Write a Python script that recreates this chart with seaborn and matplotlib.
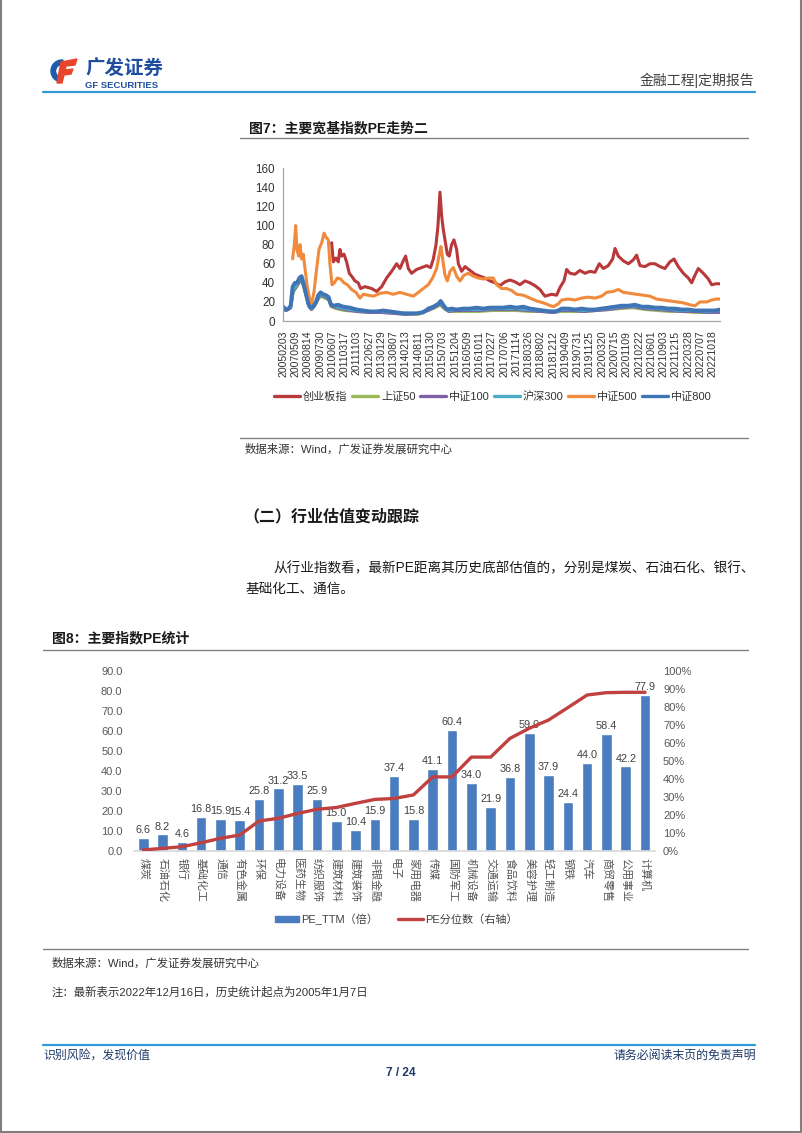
import numpy as np
import pandas as pd
import matplotlib
matplotlib.use("Agg")
import matplotlib.pyplot as plt
import seaborn as sns
from matplotlib.lines import Line2D
from matplotlib.patches import Rectangle, Wedge, Polygon

# ---- top chart: PE history of the broad indices (x = position on the date axis) ----
date_ticks = ["20050203", "20070509", "20080814", "20090730", "20100607", "20110317",
              "20111103", "20120627", "20130129", "20130807", "20140213", "20140811",
              "20150130", "20150703", "20151204", "20160509", "20161011", "20170227",
              "20170706", "20171114", "20180326", "20180802", "20181212", "20190409",
              "20190731", "20191125", "20200320", "20200715", "20201109", "20210222",
              "20210601", "20210903", "20211215", "20220328", "20220707", "20221018"]

index_names = ["创业板指", "上证50", "中证100", "沪深300", "中证500", "中证800"]
index_colors = ["#B9383A", "#9BBB59", "#7F5FA8", "#4BACC6", "#F08A3C", "#3F74B5"]

cyb_t = [3.94, 4.08, 4.29, 4.48, 4.62, 4.76, 4.95, 5.16, 5.38, 5.57, 5.84, 6.11, 6.30, 6.66,
         7.20, 7.61, 8.02, 8.42, 8.83, 9.24, 9.51, 9.78, 9.97, 10.19, 10.46, 10.87, 11.28,
         11.68, 12.01, 12.23, 12.45, 12.61, 12.77, 12.91, 13.04, 13.18, 13.37, 13.53, 13.72,
         13.91, 14.13, 14.27, 14.54, 14.81, 15.22, 15.62, 16.03, 16.44, 16.85, 17.26, 17.66,
         18.07, 18.48, 18.89, 19.29, 19.70, 20.11, 20.52, 20.92, 21.33, 21.88, 22.28, 22.55,
         22.88, 23.10, 23.37, 23.78, 24.18, 24.59, 25.00, 25.41, 25.76, 26.09, 26.49, 26.85,
         27.04, 27.31, 27.72, 28.13, 28.53, 28.80, 29.08, 29.48, 29.89, 30.30, 30.71, 31.11,
         31.52, 31.85, 32.20, 32.61, 33.02, 33.29, 33.56, 33.83, 34.24, 34.65, 34.92, 35.27,
         35.60]
cyb_v = [82, 62, 66, 62, 75, 68, 70, 62, 50, 47, 42, 40, 34, 36, 34, 31, 36, 45, 52, 60, 55,
         63, 68, 55, 50, 54, 56, 58, 56, 65, 80, 100, 135, 110, 96, 85, 70, 68, 80, 85, 75, 60,
         52, 57, 53, 49, 47, 45, 42, 40, 37, 41, 43, 41, 38, 42, 40, 37, 33, 26, 28, 27, 35,
         42, 54, 50, 49, 53, 50, 52, 51, 60, 55, 58, 65, 76, 68, 63, 60, 64, 69, 58, 57, 60,
         60, 57, 55, 62, 65, 57, 50, 45, 40, 48, 55, 50, 44, 38, 39, 39]

zz500_t = [0.76, 0.90, 1.01, 1.11, 1.25, 1.36, 1.49, 1.63, 1.77, 1.96, 2.17, 2.31, 2.50, 2.72,
           2.91, 3.13, 3.32, 3.48, 3.67, 3.80, 3.97, 4.16, 4.40, 4.67, 4.95, 5.22, 5.57, 5.92,
           6.25, 6.52, 6.93, 7.34, 7.88, 8.42, 8.97, 9.51, 10.05, 10.60, 11.01, 11.41, 11.82,
           12.17, 12.50, 12.72, 12.85, 12.99, 13.18, 13.37, 13.59, 13.86, 14.13, 14.40, 14.73,
           15.08, 15.49, 15.90, 16.30, 16.71, 17.12, 17.39, 17.80, 18.21, 18.61, 19.02, 19.57,
           20.11, 20.65, 21.20, 21.60, 22.01, 22.42, 22.69, 23.23, 23.78, 24.32, 24.86, 25.41,
           25.95, 26.36, 26.90, 27.31, 27.72, 28.26, 28.80, 29.35, 29.89, 30.43, 30.98, 31.52,
           32.07, 32.61, 33.15, 33.56, 33.97, 34.51, 34.92, 35.27, 35.60]
zz500_v = [65, 80, 100, 75, 68, 80, 65, 70, 55, 35, 22, 18, 30, 55, 75, 82, 92, 88, 85, 60, 38,
           40, 45, 44, 40, 38, 33, 30, 24, 28, 27, 26, 29, 30, 28, 30, 28, 26, 30, 34, 38, 45,
           55, 70, 78, 65, 48, 42, 52, 56, 47, 42, 48, 50, 47, 45, 44, 45, 45, 38, 34, 34, 32,
           28, 27, 24, 21, 19, 17, 15, 18, 22, 23, 22, 24, 25, 24, 26, 30, 31, 33, 30, 29, 28,
           27, 26, 23, 22, 21, 20, 19, 17, 16, 20, 20, 22, 23, 23]

zz800_t = [0.00, 0.19, 0.41, 0.60, 0.76, 0.95, 1.14, 1.30, 1.49, 1.68, 1.85, 2.04, 2.23, 2.45,
           2.66, 2.85, 3.04, 3.26, 3.48, 3.70, 3.86, 4.08, 4.48, 4.89, 5.43, 5.98, 6.52, 7.07,
           7.61, 8.15, 8.70, 9.24, 9.78, 10.33, 10.87, 11.41, 11.82, 12.23, 12.64, 12.83, 13.04,
           13.32, 13.72, 14.13, 14.67, 15.22, 15.76, 16.30, 16.85, 17.39, 17.93, 18.48, 19.02,
           19.57, 20.11, 20.65, 21.20, 21.74, 22.28, 22.69, 23.23, 23.78, 24.32, 24.86, 25.41,
           25.95, 26.49, 27.04, 27.58, 28.13, 28.67, 29.21, 29.76, 30.30, 30.84, 31.39, 31.93,
           32.47, 33.02, 33.56, 34.10, 34.65, 35.19, 35.60]
zz800_v = [15, 12, 13, 16, 36, 40, 40, 45, 47, 38, 28, 18, 14, 15, 20, 27, 30, 28, 27, 25, 18,
           16, 17, 15, 14, 12, 11, 10, 10, 11, 10, 9, 8, 8, 8, 9, 13, 15, 18, 21, 17, 12, 13, 12,
           13, 13, 14, 13, 14, 14, 14, 15, 14, 15, 13, 12, 11, 10, 10, 13, 13, 12, 13, 12, 12, 13,
           14, 15, 16, 16, 17, 15, 15, 14, 14, 13, 13, 12, 12, 11, 11, 11, 11, 12]

large_t = [0, 0.2, 0.4, 0.6, 0.8, 1.0, 1.3, 1.5, 1.7, 1.9, 2.1, 2.3, 2.6, 2.9, 3.1, 3.4, 3.7,
           3.9, 4.3, 5.0, 6.0, 7.0, 8.0, 9.0, 10.0, 11.0, 11.8, 12.4, 12.8, 13.1, 13.5, 14.0,
           15.0, 16.0, 17.0, 18.0, 19.0, 20.0, 21.0, 22.0, 22.6, 23.5, 24.5, 25.5, 26.5, 27.5,
           28.5, 29.5, 30.5, 31.5, 32.5, 33.5, 34.5, 35.6]
sz50_v = [13, 11, 12, 14, 30, 34, 40, 42, 34, 25, 15, 12, 17, 24, 26, 24, 22, 15, 13, 11, 10, 9,
          9, 8, 7, 7, 11, 14, 17, 13, 10, 10, 10, 10, 11, 11, 11, 10, 10, 9, 10, 10, 10, 11, 12,
          13, 14, 12, 11, 10, 10, 9, 9, 9]
zz100_v = [13, 11, 12, 14, 31, 35, 41, 43, 35, 25, 15, 12, 17, 25, 27, 25, 23, 16, 14, 12, 10,
           9, 9, 8, 7, 8, 11, 15, 18, 14, 10, 11, 11, 11, 12, 12, 12, 11, 10, 9, 11, 11, 10, 11,
           12, 14, 15, 13, 12, 11, 10, 10, 9, 9]
hs300_v = [14, 12, 13, 15, 32, 36, 42, 44, 36, 26, 16, 13, 18, 26, 28, 26, 24, 17, 15, 13, 11,
           10, 10, 9, 8, 8, 12, 16, 19, 15, 11, 12, 12, 12, 13, 13, 13, 12, 11, 10, 12, 12, 11,
           12, 13, 15, 16, 14, 13, 12, 11, 11, 10, 11]

# ---- bottom chart: industry PE and its historical percentile ----
industries = ["煤炭", "石油石化", "银行", "基础化工", "通信", "有色金属", "环保", "电力设备",
              "医药生物", "纺织服饰", "建筑材料", "建筑装饰", "非银金融", "电子", "家用电器",
              "传媒", "国防军工", "机械设备", "交通运输", "食品饮料", "美容护理", "轻工制造",
              "钢铁", "汽车", "商贸零售", "公用事业", "计算机"]
pe_ttm = [6.6, 8.2, 4.6, 16.8, 15.9, 15.4, 25.8, 31.2, 33.5, 25.9, 15.0, 10.4, 15.9, 37.4,
          15.8, 41.1, 60.4, 34.0, 21.9, 36.8, 59.0, 37.9, 24.4, 44.0, 58.4, 42.2, 77.9]
pe_pct = [0.004, 0.013, 0.022, 0.044, 0.069, 0.087, 0.165, 0.18, 0.207, 0.23, 0.24, 0.263,
          0.285, 0.29, 0.31, 0.41, 0.41, 0.52, 0.52, 0.624, 0.68, 0.726, 0.795, 0.865, 0.878,
          0.88, 0.88]

BAR_BLUE = "#4A7DBF"
LINE_RED = "#C0413F"
NAVY = "#1F3A68"

sns.set_theme(style="white")
plt.rcParams['font.family'] = ['Liberation Sans', 'Noto Sans CJK SC']
plt.rcParams['axes.unicode_minus'] = False

fig = plt.figure(figsize=(8.02, 11.33), dpi=100)

# page layer in pixel coordinates
page = fig.add_axes([0, 0, 1, 1], zorder=0)
page.set_xlim(0, 802)
page.set_ylim(1133, 0)
page.axis("off")

# logo
page.add_patch(Wedge((62, 71), 11, 95, 275, width=4.5, color="#1E5BAA"))
page.add_patch(Polygon([(61, 62), (77, 59), (75, 65), (66, 66), (65, 70), (73, 69),
                        (71, 74), (64, 75), (62, 83), (57, 83)], closed=True,
                       color="#E8452C"))
page.text(85, 69, "广发证券", fontsize=14, fontweight="bold", color="#1F4E9E",
          va="center", ha="left")
page.text(85, 85.5, "GF SECURITIES", fontsize=6.8, fontweight="bold", color="#1F4E9E",
          va="center", ha="left")
page.text(754, 80, "金融工程|定期报告", fontsize=10, color="#404040", va="center", ha="right")
page.plot([43, 755], [92.3, 92.3], color="#2E9BD6", lw=1.6)

# figure 7 captions
page.text(249, 128, "图7：主要宽基指数PE走势二", fontsize=10, fontweight="bold",
          va="center", ha="left", color="#1a1a1a")
page.plot([240, 748], [137.7, 137.7], color="#808080", lw=1)
page.plot([240, 748], [438, 438], color="#808080", lw=1)
page.text(245, 449, "数据来源：Wind，广发证券发展研究中心", fontsize=8.2, color="#333333",
          va="center", ha="left")

# section text
page.text(243, 517, "（二）行业估值变动跟踪", fontsize=11.5, fontweight="bold",
          va="center", ha="left", color="#1a1a1a")
page.text(273, 568, "从行业指数看，最新PE距离其历史底部估值的，分别是煤炭、石油石化、银行、",
          fontsize=9.8, va="center", ha="left", color="#1a1a1a")
page.text(246, 589, "基础化工、通信。", fontsize=9.8, va="center", ha="left", color="#1a1a1a")

# figure 8 captions
page.text(52, 638, "图8：主要指数PE统计", fontsize=10, fontweight="bold",
          va="center", ha="left", color="#1a1a1a")
page.plot([43, 748], [650, 650], color="#808080", lw=1)
page.plot([43, 748], [949, 949], color="#808080", lw=1)
page.text(52, 963, "数据来源：Wind，广发证券发展研究中心", fontsize=8.2, color="#333333",
          va="center", ha="left")
page.text(52, 992, "注：最新表示2022年12月16日，历史统计起点为2005年1月7日", fontsize=8.2,
          color="#333333", va="center", ha="left")

# footer
page.plot([43, 755], [1045, 1045], color="#2E9BD6", lw=1.6)
page.text(43, 1056, "识别风险，发现价值", fontsize=8.6, color=NAVY, va="center", ha="left")
page.text(756, 1056, "请务必阅读末页的免责声明", fontsize=8.6, color=NAVY, va="center", ha="right")
page.text(401, 1073, "7 / 24", fontsize=8.6, fontweight="bold", color=NAVY,
          va="center", ha="center")

# page frame
page.plot([1, 1], [0, 1132], color="#7F7F7F", lw=1.5)
page.plot([800.5, 800.5], [0, 1132], color="#7F7F7F", lw=1.5)
page.plot([1, 800.5], [1131.5, 1131.5], color="#7F7F7F", lw=1.5)

# ---- top chart ----
frames = []
for name, t, v in [("创业板指", cyb_t, cyb_v), ("上证50", large_t, sz50_v),
                   ("中证100", large_t, zz100_v), ("沪深300", large_t, hs300_v),
                   ("中证500", zz500_t, zz500_v), ("中证800", zz800_t, zz800_v)]:
    frames.append(pd.DataFrame({"t": t, "pe": v, "index": name}))
pe_df = pd.concat(frames, ignore_index=True)

ax1 = fig.add_axes([283.3 / 802, 1 - 321 / 1133, 436.7 / 802, 152.7 / 1133], zorder=2)
ax1.patch.set_alpha(0)
sns.lineplot(data=pe_df, x="t", y="pe", hue="index", hue_order=index_names,
             palette=index_colors, estimator=None, sort=False, linewidth=2.2,
             legend=False, ax=ax1)
for ln, name in zip(ax1.lines, index_names):
    ln.set_linewidth(2.8 if name == "中证800" else 2.2)
    ln.set_solid_joinstyle("round")

ax1.set_xlim(0, 35.6)
ax1.set_ylim(0, 160)
ax1.set_yticks(range(0, 161, 20))
ax1.set_xticks(range(len(date_ticks)))
ax1.set_xticklabels(date_ticks, rotation=90, ha="center", va="top", fontsize=7.6,
                    color="#333333")
ax1.tick_params(axis="y", labelsize=8.4, labelcolor="#333333", length=0, pad=6)
ax1.tick_params(axis="x", length=0, pad=7)
ax1.set_xlabel("")
ax1.set_ylabel("")
for s in ["top", "right"]:
    ax1.spines[s].set_visible(False)
for s in ["left", "bottom"]:
    ax1.spines[s].set_color("#A6A6A6")
    ax1.spines[s].set_linewidth(0.9)

handles1 = [Line2D([], [], color=c, lw=2.4) for c in index_colors]
fig.legend(handles1, index_names, loc="center", bbox_to_anchor=(493 / 802, 1 - 397 / 1133),
           ncol=6, frameon=False, fontsize=8, handlelength=2.3, handletextpad=0.3,
           columnspacing=0.4, labelcolor="#333333")

# ---- bottom chart ----
ax2 = fig.add_axes([133.6 / 802, 1 - 850.7 / 1133, 521.1 / 802, 180 / 1133], zorder=2)
ax2.patch.set_alpha(0)
sns.barplot(x=industries, y=pe_ttm, color=BAR_BLUE, saturation=1, width=0.55, ax=ax2)
ax2.bar_label(ax2.containers[0], fmt="%.1f", padding=2, fontsize=7.8, color="#404040")
ax2.set_ylim(0, 90)
ax2.set_xlim(-0.5, len(industries) - 0.5)
ax2.set_yticks(np.arange(0, 91, 10))
ax2.set_yticklabels([f"{v:.1f}" for v in np.arange(0, 91, 10)])
ax2.set_xticks(range(len(industries)))
ax2.set_xticklabels(industries, rotation=-90, ha="center", va="top", fontsize=7.9,
                    color="#555555")
ax2.tick_params(axis="y", labelsize=8, labelcolor="#595959", length=0, pad=8)
ax2.tick_params(axis="x", length=0, pad=5)
for s in ["top", "right", "left"]:
    ax2.spines[s].set_visible(False)
ax2.spines["bottom"].set_color("#D9D9D9")

ax2r = ax2.twinx()
sns.lineplot(x=np.arange(len(industries)), y=pe_pct, color=LINE_RED, linewidth=2.4, ax=ax2r)
ax2r.set_ylim(0, 1)
ax2r.set_yticks(np.arange(0, 1.01, 0.1))
ax2r.set_yticklabels([f"{int(round(v * 100))}%" for v in np.arange(0, 1.01, 0.1)])
ax2r.tick_params(axis="y", labelsize=8, labelcolor="#595959", length=0, pad=6)
for s in ["top", "right", "left", "bottom"]:
    ax2r.spines[s].set_visible(False)
ax2r.set_ylabel("")

handles2 = [Rectangle((0, 0), 1, 1, color=BAR_BLUE), Line2D([], [], color=LINE_RED, lw=2.4)]
fig.legend(handles2, ["PE_TTM（倍）", "PE分位数（右轴）"], loc="center",
           bbox_to_anchor=(396 / 802, 1 - 919 / 1133), ncol=2, frameon=False, fontsize=8,
           handlelength=2.2, handleheight=0.5, handletextpad=0.2, columnspacing=1.8,
           labelcolor="#404040")

fig.savefig("out.png", dpi=100)
